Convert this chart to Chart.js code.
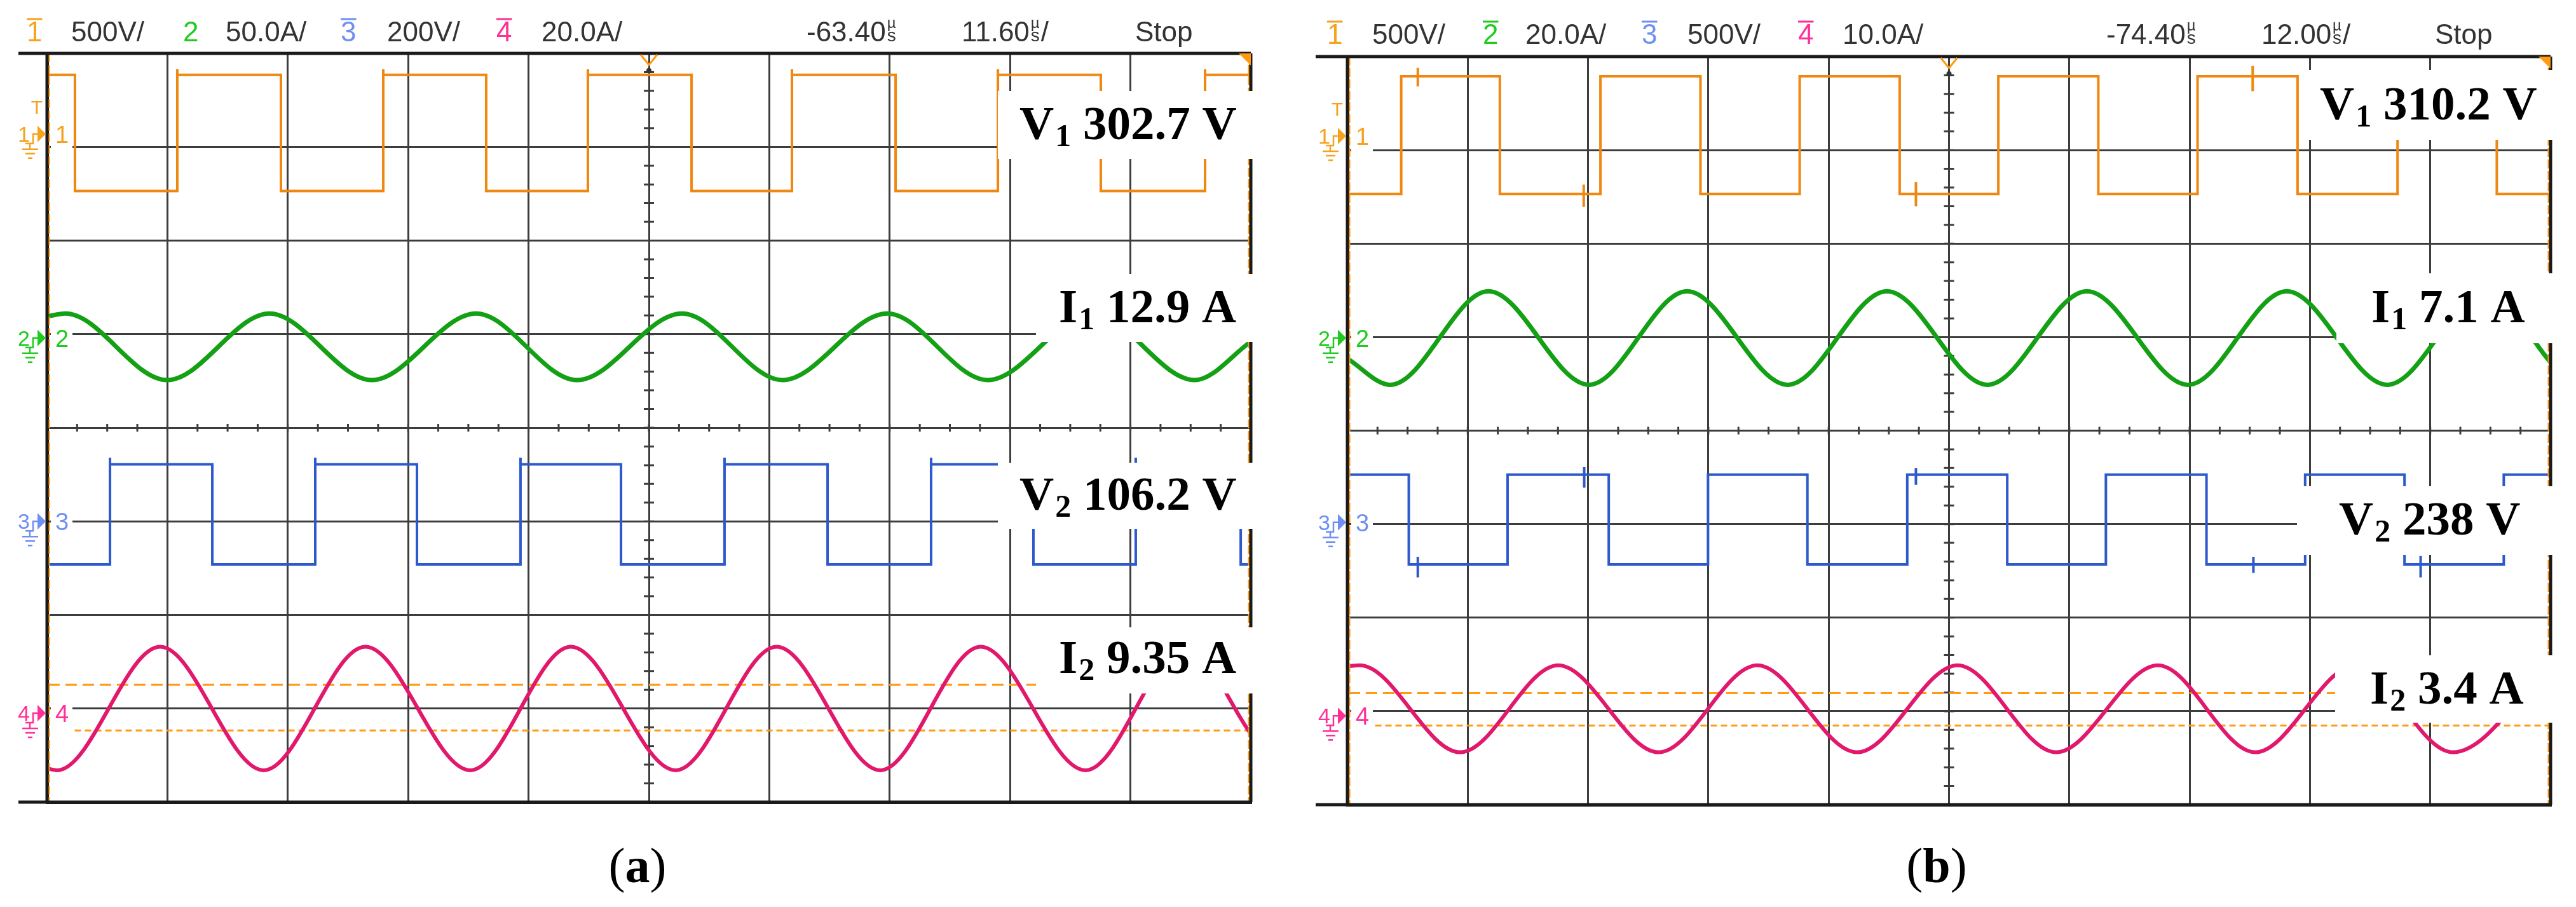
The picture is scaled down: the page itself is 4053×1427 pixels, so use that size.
<!DOCTYPE html>
<html lang="en">
<head>
<meta charset="UTF-8">
<title>Scope captures (a) (b)</title>
<script src="https://cdn.jsdelivr.net/npm/chart.js@4.4.1/dist/chart.umd.min.js"></script>
<style>
  body { margin: 0; background: #fff; }
  canvas { position: absolute; left: 0; top: 0; }
</style>
</head>
<body>
<canvas id="chartA" width="4053" height="1427"></canvas>
<canvas id="chartB" width="4053" height="1427"></canvas>
<script>
// all trace values are in screen divisions: x 0..10 from the left, y 0..8 from the bottom
const X_DIVS = 10, Y_DIVS = 8;

// ---- panel (a) ----
const ch1aEdges = [0.232, 1.082, 1.943, 2.793, 3.648, 4.493, 5.354, 6.188, 7.049, 7.899, 8.754, 9.620];
const ch1aLevels = [7.77, 6.53];          // high, low (starts high)
const ch2aX = [0, 0.153, 0.998, 1.848, 2.698, 3.564, 4.403, 5.275, 6.109, 6.980, 7.814, 8.685, 9.535, 10];
const ch2aY = [5.19, 5.22, 4.51, 5.22, 4.51, 5.22, 4.51, 5.22, 4.51, 5.22, 4.51, 5.22, 4.51, 4.92];
const ch3aEdges = [0.523, 1.373, 2.228, 3.073, 3.933, 4.768, 5.628, 6.484, 7.344, 8.194, 9.044, 9.916];
const ch3aLevels = [3.61, 2.54];          // starts low
const ch4aX = [0, 0.084, 0.940, 1.800, 2.645, 3.516, 4.351, 5.222, 6.061, 6.922, 7.756, 8.627, 9.461, 10];
const ch4aY = [0.36, 0.34, 1.66, 0.34, 1.66, 0.34, 1.66, 0.34, 1.66, 0.34, 1.66, 0.34, 1.66, 0.73];
const cursorsA = [1.255, 0.766];
const refsA = [7.14, 4.96, 3.0, 0.95];
const overA = [0.06, 0.07];               // overshoot on rising edges (ch1, ch3)

// ---- panel (b) ----
const ch1bEdges = [0.447, 1.267, 2.103, 2.934, 3.759, 4.590, 5.410, 6.241, 7.066, 7.897, 8.728, 9.553];
const ch1bLevels = [7.79, 6.53];          // starts low
const ch1bSpikes = [[0.585, 7.88, 7.68], [1.964, 6.63, 6.39], [4.725, 6.66, 6.40], [7.524, 7.90, 7.63]];
const ch2bX = [0, 0.357, 1.172, 2.008, 2.823, 3.659, 4.484, 5.320, 6.146, 6.987, 7.807, 8.643, 9.468, 10];
const ch2bY = [4.77, 4.49, 5.49, 4.49, 5.49, 4.49, 5.49, 4.49, 5.49, 4.49, 5.49, 4.49, 5.49, 4.73];
const ch3bEdges = [0.510, 1.331, 2.172, 2.997, 3.823, 4.653, 5.484, 6.304, 7.140, 7.960, 8.786, 9.611];
const ch3bLevels = [3.53, 2.57];          // starts high
const ch3bSpikes = [[0.585, 2.65, 2.43], [1.968, 3.61, 3.39], [4.725, 3.60, 3.42], [7.53, 2.65, 2.48], [8.92, 2.66, 2.43]];
const ch4bX = [0, 0.103, 0.938, 1.752, 2.587, 3.407, 4.236, 5.072, 5.890, 6.737, 7.545, 8.380, 9.188, 10];
const ch4bY = [1.48, 1.49, 0.56, 1.49, 0.56, 1.49, 0.56, 1.49, 0.56, 1.49, 0.56, 1.49, 0.56, 1.49];
const cursorsB = [1.193, 0.847];
const refsB = [7.15, 4.99, 3.02, 0.95];

// readouts
const readA = [['V', '1', ' 302.7 V'], ['I', '1', ' 12.9 A'], ['V', '2', ' 106.2 V'], ['I', '2', ' 9.35 A']];
const readB = [['V', '1', ' 310.2 V'], ['I', '1', ' 7.1 A'], ['V', '2', ' 238 V'], ['I', '2', ' 3.4 A']];

const headerA = ['1', '500V/', '2', '50.0A/', '3', '200V/', '4', '20.0A/', '-63.40', '11.60', 'Stop'];
const headerB = ['1', '500V/', '2', '20.0A/', '3', '500V/', '4', '10.0A/', '-74.40', '12.00', 'Stop'];

const COL = { orange: '#ee8810', green: '#14a014', blue: '#2d59cc', pink: '#e2186c', cursor: '#ff9a12' };
const TXT = ['#f5a21e', '#1ecb1e', '#6f8ff2', '#ff2f97'];

// layout of each panel (pixels)
const layoutA = {
  pad: { left: 74, top: 84, right: 4053 - 1968, bottom: 1427 - 1262 },
  lineLeft: 29, headBase: 65,
  headX: [42, 112, 288, 355, 536, 609, 781, 852, 1269, 1513, 1786],
  bars: [true, false, false, false, true, false, true, false],
  boxes: [[1570, 143, 1980, 250, 1604, 219], [1630, 431, 1980, 538, 1666, 507],
          [1570, 728, 1980, 832, 1604, 802], [1630, 987, 1980, 1091, 1666, 1059]],
  caption: ['a', 1003, 1388], cur2Start: 0.23
};
const layoutB = {
  pad: { left: 2120, top: 89, right: 4053 - 4013, bottom: 1427 - 1266 },
  lineLeft: 2070, headBase: 69,
  headX: [2088, 2159, 2333, 2400, 2583, 2655, 2829, 2899, 3314, 3558, 3831],
  bars: [true, false, true, false, true, false, true, false],
  boxes: [[3632, 110, 4030, 220, 3650, 188], [3676, 430, 4030, 540, 3731, 507],
          [3614, 765, 4030, 873, 3680, 841], [3674, 1031, 4030, 1137, 3729, 1107]],
  caption: ['b', 3047, 1388], cur2Start: 0.23
};

// stepped trace: alternate between the two levels at each edge, with optional
// glitches [x, top, bottom] and overshoot on rising edges
function squareWave(edges, levels, startHigh, spikes, over) {
  let lv = startHigh ? 0 : 1;
  const pts = [{ x: 0, y: levels[lv] }];
  const events = edges.map(e => ({ x: e, edge: true }))
    .concat((spikes || []).map(s => ({ x: s[0], s: s })))
    .sort((a, b) => a.x - b.x);
  events.forEach(ev => {
    if (ev.edge) {
      lv = 1 - lv;
      if (lv === 0 && over) pts.push({ x: ev.x, y: levels[0] + over });
      pts.push({ x: ev.x, y: levels[lv] });
    } else {
      pts.push({ x: ev.x, y: levels[lv] }, { x: ev.x, y: ev.s[1] }, { x: ev.x, y: ev.s[2] }, { x: ev.x, y: levels[lv] });
    }
  });
  pts.push({ x: X_DIVS, y: levels[lv] });
  return pts;
}
function zipPts(xs, ys) { return xs.map((x, i) => ({ x: x, y: ys[i] })); }

function drawMarker(ctx, left, yc, n, col, withT) {
  ctx.save();
  ctx.strokeStyle = col; ctx.fillStyle = col; ctx.lineWidth = 2.5;
  ctx.font = '34px "Liberation Sans"';
  ctx.fillText(n, left - 46, yc + 12);
  ctx.beginPath();
  ctx.moveTo(left - 34, yc + 15); ctx.lineTo(left - 22, yc + 15);
  ctx.lineTo(left - 22, yc); ctx.lineTo(left - 15, yc);
  ctx.moveTo(left - 27, yc + 15); ctx.lineTo(left - 27, yc + 24);
  ctx.moveTo(left - 39, yc + 24); ctx.lineTo(left - 14, yc + 24);
  ctx.moveTo(left - 34, yc + 31); ctx.lineTo(left - 19, yc + 31);
  ctx.moveTo(left - 30, yc + 38); ctx.lineTo(left - 23, yc + 38);
  ctx.stroke();
  ctx.beginPath();
  ctx.moveTo(left - 15, yc - 13); ctx.lineTo(left - 2, yc); ctx.lineTo(left - 15, yc + 13);
  ctx.closePath(); ctx.fill();
  if (withT) {
    ctx.font = '30px "Liberation Sans"'; ctx.textAlign = 'center';
    ctx.fillText('T', left - 16, yc - 32);
  }
  ctx.restore();
}

function scopeDecor(L, refs, reads, header) {
  return {
    id: 'scopeDecor',
    beforeDatasetsDraw(chart) {
      const { ctx, chartArea: a, scales: { x, y } } = chart;
      ctx.save();
      // minor ticks on the centre axes
      ctx.strokeStyle = '#3d3d3d'; ctx.lineWidth = 3;
      const cy = y.getPixelForValue(Y_DIVS / 2), cx = x.getPixelForValue(X_DIVS / 2);
      ctx.beginPath();
      for (let v = 0.25; v < X_DIVS; v += 0.25) {
        const px = x.getPixelForValue(v);
        ctx.moveTo(px, cy - 6); ctx.lineTo(px, cy + 6);
      }
      for (let v = 0.2; v < Y_DIVS; v += 0.2) {
        const py = y.getPixelForValue(v);
        ctx.moveTo(cx - 8, py); ctx.lineTo(cx + 8, py);
      }
      ctx.stroke();
      // channel numbers inside the grid
      refs.forEach((r, i) => {
        const yc = y.getPixelForValue(r);
        ctx.fillStyle = '#fff';
        ctx.fillRect(a.left + 6, yc - 22, 34, 46);
        ctx.fillStyle = TXT[i];
        ctx.font = '38px "Liberation Sans"';
        ctx.fillText(String(i + 1), a.left + 13, yc + 14);
      });
      ctx.restore();
    },
    afterDatasetsDraw(chart) {
      const { ctx, chartArea: a, scales: { x, y } } = chart;
      ctx.save();
      // trigger cursors at both edges
      ctx.strokeStyle = COL.cursor; ctx.lineWidth = 3; ctx.setLineDash([14, 4]);
      ctx.beginPath();
      ctx.moveTo(a.left + 3, a.top); ctx.lineTo(a.left + 3, a.bottom);
      ctx.moveTo(a.right - 3, a.top); ctx.lineTo(a.right - 3, a.bottom);
      ctx.stroke();
      ctx.setLineDash([]);
      // frame
      ctx.strokeStyle = '#1a1a1a'; ctx.lineWidth = 5;
      ctx.beginPath();
      ctx.moveTo(L.lineLeft, a.top); ctx.lineTo(a.right, a.top);
      ctx.moveTo(L.lineLeft, a.bottom); ctx.lineTo(a.right, a.bottom);
      ctx.moveTo(a.right, a.top); ctx.lineTo(a.right, a.bottom);
      ctx.moveTo(a.left, a.top); ctx.lineTo(a.left, a.bottom);
      ctx.stroke();
      // corner and trigger marks
      ctx.fillStyle = COL.cursor;
      ctx.beginPath();
      ctx.moveTo(a.right - 19, a.top); ctx.lineTo(a.right, a.top); ctx.lineTo(a.right, a.top + 19);
      ctx.closePath(); ctx.fill();
      const cx = x.getPixelForValue(X_DIVS / 2);
      ctx.strokeStyle = COL.cursor; ctx.lineWidth = 3;
      ctx.beginPath();
      ctx.moveTo(cx - 13, a.top + 2); ctx.lineTo(cx, a.top + 18); ctx.lineTo(cx + 13, a.top + 2);
      ctx.stroke();
      ctx.fillStyle = '#333';
      ctx.beginPath(); ctx.arc(cx, a.top + 27, 4, 0, Math.PI * 2); ctx.fill();
      // channel markers left of the grid
      refs.forEach((r, i) => drawMarker(ctx, a.left, y.getPixelForValue(r), String(i + 1), TXT[i], i === 0));
      // header line
      const base = L.headBase;
      header.forEach((t, i) => {
        const hx = L.headX[i];
        if (i < 8 && i % 2 === 0) {
          const c = TXT[i / 2];
          ctx.fillStyle = c; ctx.strokeStyle = c;
          ctx.font = '44px "Liberation Sans"';
          ctx.fillText(t, hx, base);
          if (L.bars[i]) {
            const w = ctx.measureText(t).width;
            ctx.lineWidth = 3;
            ctx.beginPath(); ctx.moveTo(hx, base - 35); ctx.lineTo(hx + w, base - 35); ctx.stroke();
          }
        } else {
          ctx.fillStyle = '#333';
          ctx.font = '44px "Liberation Sans"';
          ctx.fillText(t, hx, base);
          if (i === 8 || i === 9) {
            const ux = hx + ctx.measureText(t).width + 2;
            ctx.font = '24px "Liberation Sans"';
            ctx.fillText('\u00b5', ux, base - 21);
            ctx.font = '28px "Liberation Sans"';
            ctx.fillText('s', ux, base);
            if (i === 9) {
              ctx.font = '44px "Liberation Sans"';
              ctx.fillText('/', ux + 16, base);
            }
          }
        }
      });
      // readout boxes
      L.boxes.forEach((b, i) => {
        ctx.fillStyle = '#fff';
        ctx.fillRect(b[0], b[1], b[2] - b[0], b[3] - b[1]);
        const [m, s, rest] = reads[i];
        let tx = b[4];
        ctx.fillStyle = '#000';
        ctx.font = 'bold 75px "Liberation Serif"';
        ctx.fillText(m, tx, b[5]); tx += ctx.measureText(m).width + 2;
        ctx.font = 'bold 50px "Liberation Serif"';
        ctx.fillText(s, tx, b[5] + 11); tx += ctx.measureText(s).width;
        ctx.font = 'bold 75px "Liberation Serif"';
        ctx.fillText(rest, tx, b[5]);
      });
      // caption
      const [letter, capX, capY] = L.caption;
      ctx.font = '78px "Liberation Serif"';
      const wp = ctx.measureText('(').width;
      ctx.font = 'bold 78px "Liberation Serif"';
      const wl = ctx.measureText(letter).width;
      const sx = capX - (2 * wp + wl) / 2;
      ctx.font = '78px "Liberation Serif"';
      ctx.fillText('(', sx, capY);
      ctx.font = 'bold 78px "Liberation Serif"';
      ctx.fillText(letter, sx + wp, capY);
      ctx.font = '78px "Liberation Serif"';
      ctx.fillText(')', sx + wp + wl, capY);
      ctx.restore();
    }
  };
}

function makeChart(id, L, sets, refs, reads, header) {
  const { sq1, x2, y2, sq3, x4, y4, cur } = sets;
  const line = { pointRadius: 0, fill: false, tension: 0 };
  new Chart(document.getElementById(id), {
    type: 'line',
    data: {
      datasets: [
        Object.assign({ data: sq1, borderColor: COL.orange, borderWidth: 4, stepped: 'before' }, line),
        Object.assign({ data: zipPts(x2, y2), borderColor: COL.green, borderWidth: 7, cubicInterpolationMode: 'monotone' }, line),
        Object.assign({ data: sq3, borderColor: COL.blue, borderWidth: 4, stepped: 'before' }, line),
        Object.assign({ data: zipPts(x4, y4), borderColor: COL.pink, borderWidth: 6, cubicInterpolationMode: 'monotone' }, line),
        Object.assign({ data: [{ x: 0.01, y: cur[0] }, { x: X_DIVS, y: cur[0] }], borderColor: COL.cursor, borderWidth: 3, borderDash: [18, 9] }, line),
        Object.assign({ data: [{ x: L.cur2Start, y: cur[1] }, { x: X_DIVS, y: cur[1] }], borderColor: COL.cursor, borderWidth: 3, borderDash: [10, 6] }, line)
      ]
    },
    options: {
      responsive: false, animation: false, events: [],
      layout: { padding: L.pad },
      plugins: { legend: { display: false }, tooltip: { enabled: false } },
      scales: {
        x: {
          type: 'linear', min: 0, max: X_DIVS,
          ticks: { display: false, stepSize: 1 },
          grid: { color: '#3d3d3d', lineWidth: 3, drawTicks: false },
          border: { display: true, color: '#1a1a1a', width: 5 }
        },
        y: {
          type: 'linear', min: 0, max: Y_DIVS,
          ticks: { display: false, stepSize: 1 },
          grid: { color: '#3d3d3d', lineWidth: 3, drawTicks: false },
          border: { display: true, color: '#1a1a1a', width: 5 }
        }
      }
    },
    plugins: [scopeDecor(L, refs, reads, header)]
  });
}

makeChart('chartA', layoutA, {
  sq1: squareWave(ch1aEdges, ch1aLevels, true, [], overA[0]),
  x2: ch2aX, y2: ch2aY,
  sq3: squareWave(ch3aEdges, ch3aLevels, false, [], overA[1]),
  x4: ch4aX, y4: ch4aY, cur: cursorsA
}, refsA, readA, headerA);

makeChart('chartB', layoutB, {
  sq1: squareWave(ch1bEdges, ch1bLevels, false, ch1bSpikes, 0),
  x2: ch2bX, y2: ch2bY,
  sq3: squareWave(ch3bEdges, ch3bLevels, true, ch3bSpikes, 0),
  x4: ch4bX, y4: ch4bY, cur: cursorsB
}, refsB, readB, headerB);
</script>
</body>
</html>
